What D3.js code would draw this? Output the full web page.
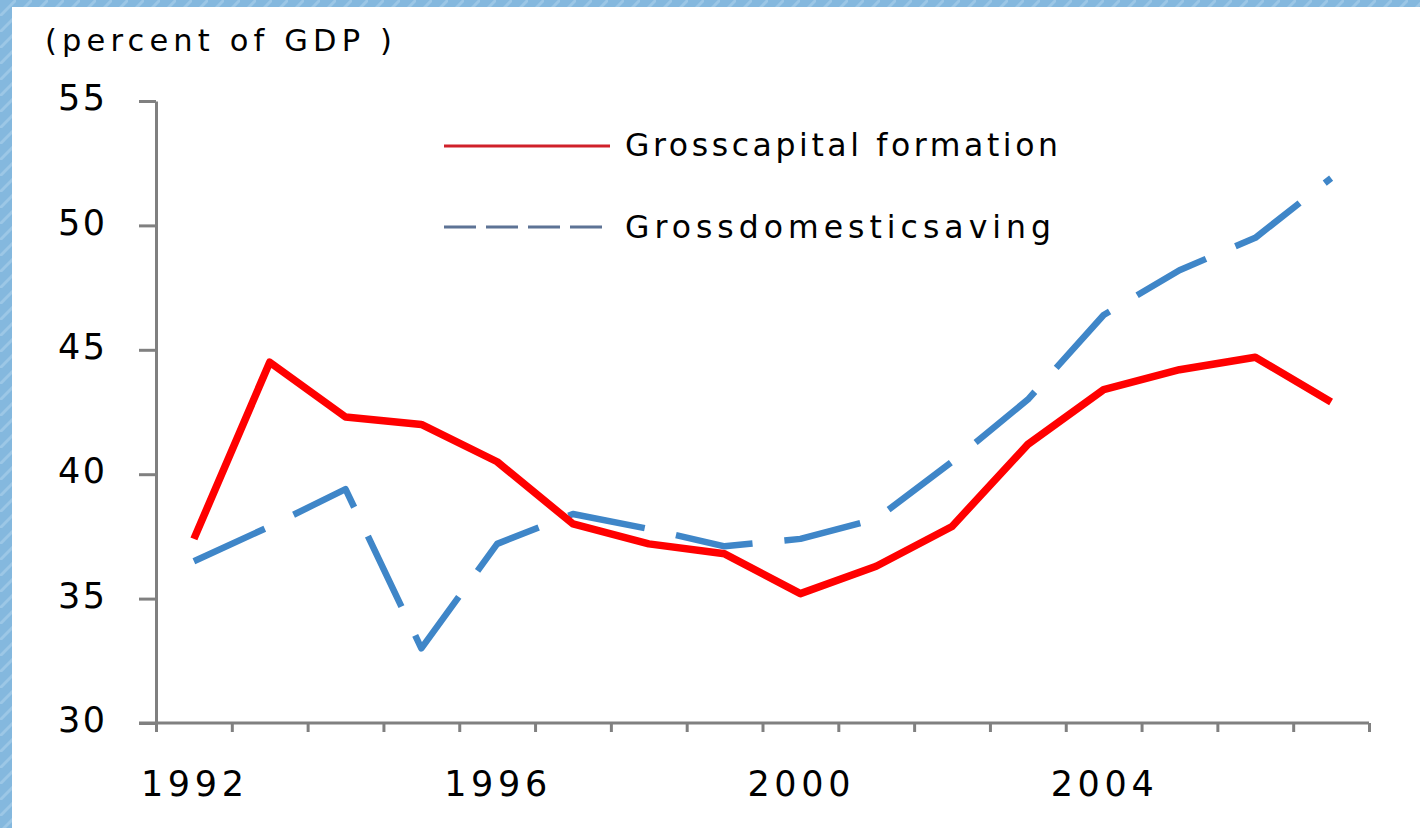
<!DOCTYPE html>
<html>
<head>
<meta charset="utf-8">
<script src="https://cdn.jsdelivr.net/npm/d3@7"></script>
<style>
  html, body { margin: 0; padding: 0; background: #86b9df; }
  svg { display: block; }
  text { font-family: "DejaVu Sans", sans-serif; fill: #000; }
</style>
</head>
<body>
<svg id="chart" width="1420" height="828"></svg>
<script>
// ---- data ----
const years = [1992, 1993, 1994, 1995, 1996, 1997, 1998, 1999, 2000, 2001, 2002, 2003, 2004, 2005, 2006, 2007];
const grossCapitalFormation = [37.4, 44.5, 42.3, 42.0, 40.5, 38.0, 37.2, 36.8, 35.2, 36.3, 37.9, 41.2, 43.4, 44.2, 44.7, 42.9];
const grossDomesticSaving   = [36.5, 37.9, 39.4, 33.0, 37.2, 38.4, 37.8, 37.1, 37.4, 38.2, 40.5, 43.0, 46.4, 48.2, 49.5, 51.9];
const yTicks = [30, 35, 40, 45, 50, 55];
const xLabelYears = [1992, 1996, 2000, 2004];
const seriesNames = ["Grosscapital formation", "Grossdomesticsaving"];
const yAxisTitle = "(percent of GDP )";

// ---- layout ----
const FONT = "'DejaVu Sans', sans-serif";
const svg = d3.select("#chart");
const defs = svg.append("defs");
const pat = defs.append("pattern").attr("id", "tex").attr("width", 16).attr("height", 16)
  .attr("patternUnits", "userSpaceOnUse");
pat.append("rect").attr("width", 16).attr("height", 16).attr("fill", "#84b8de");
pat.append("path").attr("d", "M0,16 L16,0").attr("stroke", "#9cc7e6").attr("stroke-width", 3);
svg.append("rect").attr("width", 1420).attr("height", 828).attr("fill", "url(#tex)");
svg.append("rect").attr("x", 12).attr("y", 7).attr("width", 1408).attr("height", 821).attr("fill", "#ffffff");

const x = d3.scaleLinear().domain([years[0] - 0.5, years[years.length - 1] + 0.5]).range([156, 1369]);
const y = d3.scaleLinear().domain([30, 55]).range([723, 101]);

const axisColor = "#808080";

// y axis
const yAxis = svg.append("g").attr("transform", "translate(156,0)")
  .call(d3.axisLeft(y).tickValues(yTicks).tickSize(17).tickPadding(34).tickSizeOuter(0));
yAxis.select(".domain").attr("stroke", axisColor).attr("stroke-width", 3);
yAxis.selectAll(".tick line").attr("stroke", axisColor).attr("stroke-width", 3);
yAxis.selectAll(".tick text").attr("font-size", 35).attr("dy", "0.25em")
  .attr("textLength", 47).attr("lengthAdjust", "spacing")
  .style("font-family", FONT).attr("fill", "#000");

// x axis: ticks at category boundaries
const boundaries = d3.range(years.length + 1).map(i => years[0] - 0.5 + i);
const xAxis = svg.append("g").attr("transform", "translate(0,723)")
  .call(d3.axisBottom(x).tickValues(boundaries).tickSize(9).tickFormat("").tickSizeOuter(0));
xAxis.select(".domain").attr("stroke", axisColor).attr("stroke-width", 3)
  .attr("d", `M139,0H${x.range()[1]}`);
xAxis.selectAll(".tick line").attr("stroke", axisColor).attr("stroke-width", 3);

// x labels
const xLab = svg.append("g").attr("transform", "translate(-2,723)")
  .call(d3.axisBottom(x).tickValues(xLabelYears).tickSize(0).tickPadding(48).tickFormat(d3.format("d")));
xLab.select(".domain").remove();
xLab.selectAll(".tick text").attr("font-size", 35).attr("dy", "0.71em")
  .attr("textLength", 103).attr("lengthAdjust", "spacing")
  .style("font-family", FONT).attr("fill", "#000");

// axis title
svg.append("text").attr("x", 45).attr("y", 51).attr("font-size", 30.5)
  .attr("textLength", 347).attr("lengthAdjust", "spacing").text(yAxisTitle);

// lines
const line = d3.line().x((d, i) => x(years[i])).y(d => y(d));
svg.append("path").datum(grossDomesticSaving).attr("d", line)
  .attr("fill", "none").attr("stroke", "#3f86c8").attr("stroke-width", 6.5)
  .attr("stroke-dasharray", "78,32").attr("stroke-linejoin", "round");
svg.append("path").datum(grossCapitalFormation).attr("d", line)
  .attr("fill", "none").attr("stroke", "#ff0000").attr("stroke-width", 7.5)
  .attr("stroke-linejoin", "round");

// legend
const legend = svg.append("g");
legend.append("line").attr("x1", 444).attr("x2", 610).attr("y1", 146).attr("y2", 146)
  .attr("stroke", "#d0202a").attr("stroke-width", 3);
legend.append("line").attr("x1", 444).attr("x2", 604).attr("y1", 227).attr("y2", 227)
  .attr("stroke", "#5d7395").attr("stroke-width", 3).attr("stroke-dasharray", "32,10");
legend.append("text").attr("x", 625).attr("y", 156).attr("font-size", 31.5)
  .attr("textLength", 433).attr("lengthAdjust", "spacing").text(seriesNames[0]);
legend.append("text").attr("x", 625).attr("y", 238).attr("font-size", 31.5)
  .attr("textLength", 426).attr("lengthAdjust", "spacing").text(seriesNames[1]);
</script>
</body>
</html>
